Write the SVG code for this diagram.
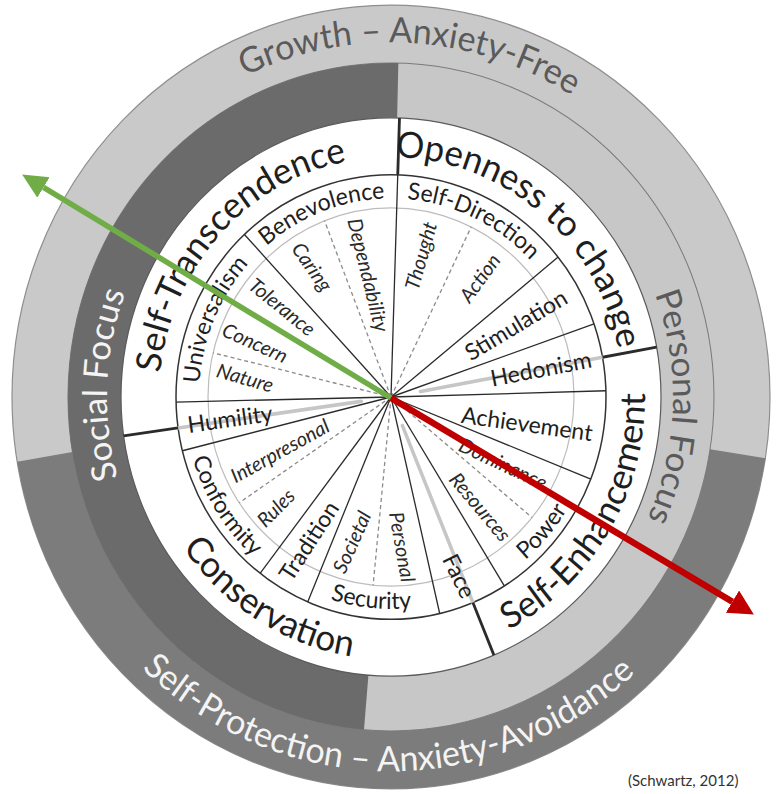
<svg xmlns="http://www.w3.org/2000/svg" width="778" height="794" viewBox="0 0 778 794">
  <style>
    .lbl { font-family: Lato, "Liberation Sans", sans-serif; }
    .outerTxt { font-size: 34px; }
    .major { font-size: 35px; fill: #1e1e1e; }
    .val { font-size: 23px; fill: #1e1e1e; }
    .sub { font-size: 20px; font-style: italic; fill: #2a2a2a; }
    .spoke { stroke: #2b2b2b; stroke-width: 1.3; fill: none; }
    .divider { stroke: #2b2b2b; stroke-width: 2.8; fill: none; }
    .faded { stroke: #c6c6c6; stroke-width: 3.5; fill: none; stroke-linecap: round; }
    .dash { stroke: #8c8c8c; stroke-width: 1.3; stroke-dasharray: 4 3; fill: none; }
  </style>
  <defs>
    <!-- baseline arcs for curved labels (wheel frame, centre at origin) -->
    <path id="pGrowth" d="M -315.0 -135.7 A 343 343 0 0 1 328.5 -98.6"/>
    <path id="pProtect" d="M -350.5 90.6 A 362 362 0 0 0 348.8 96.7"/>
    <path id="pSocial" d="M -152.2 239.8 A 284 284 0 0 1 -131.6 -251.7"/>
    <path id="pPersonal" d="M 149.4 -239.2 A 282 282 0 0 1 132.4 249.0"/>
    <path id="pTrans" d="M -221.1 70.15 A 232 232 0 0 1 49.8 -226.6"/>
    <path id="pOpen" d="M -80.1 -217.7 A 232 232 0 0 1 228.6 39.5"/>
    <path id="pEnh" d="M -3.55 254.0 A 254 254 0 0 0 221.7 -123.9"/>
    <path id="pCons" d="M -253.8 -8.86 A 254 254 0 0 0 119.2 224.3"/>
    <path id="pBen" d="M -168.3 -92.5 A 192 192 0 0 1 61.9 -181.8"/>
    <path id="pSD" d="M -47.4 -186.1 A 192 192 0 0 1 175.0 -79.0"/>
    <path id="pUni" d="M -183.6 56.1 A 192 192 0 0 1 -87.2 -171.1"/>
    <path id="pConf" d="M -205.2 -27.0 A 207 207 0 0 0 -62.2 197.4"/>
    <path id="pSec" d="M -146.8 143.1 A 205 205 0 0 0 115.5 169.4"/>
    <path id="pPow" d="M 33.5 204.3 A 207 207 0 0 0 207.0 2.5"/>
    <marker id="headGreen" markerUnits="userSpaceOnUse" markerWidth="26" markerHeight="26" refX="0" refY="12" orient="auto">
      <path d="M0,0 L25,12 L0,24 z" fill="#70ad47"/>
    </marker>
    <marker id="headRed" markerUnits="userSpaceOnUse" markerWidth="26" markerHeight="28" refX="0" refY="13" orient="auto">
      <path d="M0,0 L25,13 L0,26 z" fill="#c00000"/>
    </marker>
  </defs>

  <rect width="778" height="794" fill="#ffffff"/>

  <g id="wheel" transform="translate(391 397) scale(1 1.034)">
    <!-- outer ring: growth (top) / self-protection (bottom) -->
    <g id="rings">
      <circle r="379" fill="#c9c9c9" stroke="#8e8e8e" stroke-width="1.2"/>
      <path d="M 374.3 59.3 A 379 379 0 0 1 -373.8 62.55 L -318.6 53.3 A 323 323 0 0 0 319.0 50.5 Z" fill="#7c7c7c"/>
      <!-- focus ring: social (left) / personal (right) -->
      <circle r="323" fill="#c7c7c7" stroke="#7a7a7a" stroke-width="1"/>
      <path d="M -27.03 321.87 A 323 323 0 0 1 7.33 -322.92 L 6.13 -269.93 A 270 270 0 0 0 -22.59 269.05 Z" fill="#6b6b6b"/>
      <circle r="270" fill="#ffffff" stroke="#5a5a5a" stroke-width="1.2"/>
      <circle r="215" fill="none" stroke="#333333" stroke-width="1.5"/>
      <circle r="183" fill="none" stroke="#bdbdbd" stroke-width="1.2"/>
    </g>

    <g id="spokes">
      <!-- faint continuations of the higher-order dividers -->
      <line class="faded" x1="29.5" y1="-5.4" x2="211.5" y2="-38.44"/>
      <line class="faded" x1="11.4" y1="27.7" x2="81.9" y2="198.8"/>
      <line class="faded" x1="-29.7" y1="4.2" x2="-212.9" y2="29.92"/>
      <!-- subvalue separators -->
      <line class="dash" x1="0" y1="0" x2="80.2" y2="-164.5"/>
      <line class="dash" x1="0" y1="0" x2="141.0" y2="116.6"/>
      <line class="dash" x1="0" y1="0" x2="-17.9" y2="182.1"/>
      <line class="dash" x1="0" y1="0" x2="-151.7" y2="102.3"/>
      <line class="dash" x1="0" y1="0" x2="-177.9" y2="-42.7"/>
      <line class="dash" x1="0" y1="0" x2="-66.5" y2="-170.5"/>
      <!-- value separators -->
      <line class="spoke" x1="0" y1="0" x2="6.75" y2="-214.9"/>
      <line class="spoke" x1="0" y1="0" x2="167.1" y2="-135.3"/>
      <line class="spoke" x1="0" y1="0" x2="203.0" y2="-70.7"/>
      <line class="spoke" x1="0" y1="0" x2="214.9" y2="-6.0"/>
      <line class="spoke" x1="0" y1="0" x2="199.8" y2="79.5"/>
      <line class="spoke" x1="0" y1="0" x2="113.3" y2="182.7"/>
      <line class="spoke" x1="0" y1="0" x2="48.7" y2="209.4"/>
      <line class="spoke" x1="0" y1="0" x2="-83.3" y2="198.2"/>
      <line class="spoke" x1="0" y1="0" x2="-130.9" y2="170.6"/>
      <line class="spoke" x1="0" y1="0" x2="-208.6" y2="52.0"/>
      <line class="spoke" x1="0" y1="0" x2="-214.9" y2="4.9"/>
      <line class="spoke" x1="0" y1="0" x2="-146.6" y2="-157.2"/>
      <!-- higher-order dividers -->
      <line class="divider" x1="6.75" y1="-214.9" x2="8.48" y2="-269.87"/>
      <line class="divider" x1="211.5" y1="-38.44" x2="265.6" y2="-48.28"/>
      <line class="divider" x1="81.9" y1="198.8" x2="102.9" y2="249.6"/>
      <line class="divider" x1="-212.9" y1="29.92" x2="-267.4" y2="37.58"/>
    </g>

    <g id="ring-labels" class="lbl">
      <text class="outerTxt" fill="#5a5a5a"><textPath href="#pGrowth" startOffset="50%" text-anchor="middle">Growth – Anxiety-Free</textPath></text>
      <text class="outerTxt" fill="#f4f4f4" font-size="35.5"><textPath href="#pProtect" startOffset="50%" text-anchor="middle">Self-Protection – Anxiety-Avoidance</textPath></text>
      <text class="outerTxt" fill="#f4f4f4"><textPath href="#pSocial" startOffset="50%" text-anchor="middle">Social Focus</textPath></text>
      <text class="outerTxt" fill="#5a5a5a" font-size="35"><textPath href="#pPersonal" startOffset="50%" text-anchor="middle">Personal Focus</textPath></text>
    </g>

    <g id="higher-order" class="lbl">
      <text class="major"><textPath href="#pTrans" startOffset="50%" text-anchor="middle">Self-Transcendence</textPath></text>
      <text class="major"><textPath href="#pOpen" startOffset="50%" text-anchor="middle">Openness to change</textPath></text>
      <text class="major" font-size="36"><textPath href="#pEnh" startOffset="50%" text-anchor="middle">Self-Enhancement</textPath></text>
      <text class="major" font-size="37"><textPath href="#pCons" startOffset="50%" text-anchor="middle">Conservation</textPath></text>
    </g>

    <g id="values-curved" class="lbl">
      <text class="val"><textPath href="#pBen" startOffset="50%" text-anchor="middle">Benevolence</textPath></text>
      <text class="val"><textPath href="#pSD" startOffset="50%" text-anchor="middle">Self-Direction</textPath></text>
      <text class="val"><textPath href="#pUni" startOffset="50%" text-anchor="middle">Universalism</textPath></text>
      <text class="val"><textPath href="#pConf" startOffset="50%" text-anchor="middle">Conformity</textPath></text>
      <text class="val"><textPath href="#pSec" startOffset="50%" text-anchor="middle">Security</textPath></text>
      <text class="val"><textPath href="#pPow" startOffset="50%" text-anchor="middle">Power</textPath></text>
    </g>
  </g>

  <g id="values-radial" class="lbl" text-anchor="middle">
    <text class="val" dy="0.35em" transform="translate(230 419) rotate(-8)">Humility</text>
    <text class="val" dy="0.35em" transform="translate(527 424) rotate(8)">Achievement</text>
    <text class="val" dy="0.35em" transform="translate(541 369) rotate(-11)">Hedonism</text>
    <text class="val" dy="0.35em" transform="translate(516 325) rotate(-31)">Stimulation</text>
    <text class="val" dy="0.35em" transform="translate(309 541) rotate(-57)">Tradition</text>
    <text class="val" dy="0.35em" transform="translate(459 576) rotate(64)">Face</text>
  </g>

  <g id="subvalues" class="lbl" text-anchor="middle">
    <text class="sub" dy="0.35em" transform="translate(421 256) rotate(-74)">Thought</text>
    <text class="sub" dy="0.35em" transform="translate(480 278) rotate(-54)">Action</text>
    <text class="sub" dy="0.35em" transform="translate(368 275) rotate(76)">Dependability</text>
    <text class="sub" dy="0.35em" transform="translate(312 267) rotate(55)">Caring</text>
    <text class="sub" dy="0.35em" transform="translate(282 307) rotate(39)">Tolerance</text>
    <text class="sub" dy="0.35em" transform="translate(255 343) rotate(24)">Concern</text>
    <text class="sub" dy="0.35em" transform="translate(245 378) rotate(16)">Nature</text>
    <text class="sub" dy="0.35em" transform="translate(280 451) rotate(-29)">Interpresonal</text>
    <text class="sub" dy="0.35em" transform="translate(276 508) rotate(-45)">Rules</text>
    <text class="sub" dy="0.35em" transform="translate(352 542) rotate(-66)">Societal</text>
    <text class="sub" dy="0.35em" transform="translate(402 547) rotate(80)">Personal</text>
    <text class="sub" dy="0.35em" transform="translate(480 507) rotate(50)">Resources</text>
    <text class="sub" dy="0.35em" transform="translate(503 464) rotate(25)">Dominance</text>
  </g>

  <g id="arrows">
    <line x1="391" y1="398" x2="43.5" y2="187.4" stroke="#70ad47" stroke-width="5.5" marker-end="url(#headGreen)"/>
    <line x1="391" y1="398" x2="732.4" y2="601.7" stroke="#c00000" stroke-width="6.5" marker-end="url(#headRed)"/>
  </g>

  <text class="lbl" x="628" y="786" font-size="15" fill="#333333">(Schwartz, 2012)</text>
</svg>
